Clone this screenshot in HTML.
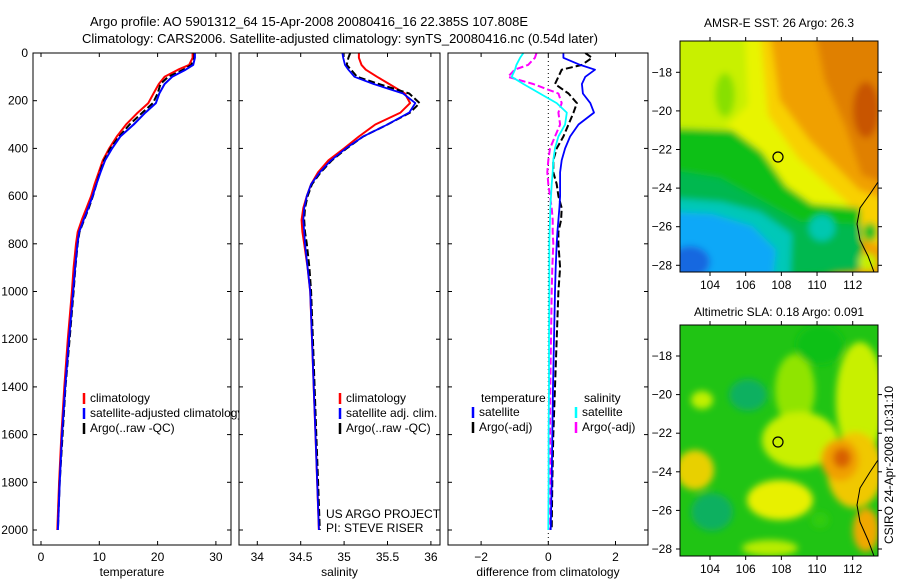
<!DOCTYPE html>
<html><head><meta charset="utf-8"><style>
html,body{margin:0;padding:0;background:#fff;}
svg{display:block;font-family:"Liberation Sans",sans-serif;}
</style></head><body>
<svg id="chart" width="900" height="580" viewBox="0 0 900 580" xmlns="http://www.w3.org/2000/svg">
<defs>
  <clipPath id="clipM1"><rect x="680" y="41" width="198" height="231"/></clipPath>
  <clipPath id="clipM2"><rect x="680" y="325" width="198" height="231"/></clipPath>
  <filter id="blur" x="-20%" y="-20%" width="140%" height="140%"><feGaussianBlur stdDeviation="3.5"/></filter>
  <clipPath id="clipP1"><rect x="33" y="53" width="198" height="492"/></clipPath>
  <clipPath id="clipP2"><rect x="239" y="53" width="201" height="492"/></clipPath>
  <clipPath id="clipP3"><rect x="448" y="53" width="200" height="492"/></clipPath>
</defs>
<text x="309" y="26" font-size="13" text-anchor="middle">Argo profile: AO 5901312_64 15-Apr-2008 20080416_16 22.385S 107.808E</text>
<text x="340" y="43" font-size="13" text-anchor="middle">Climatology: CARS2006. Satellite-adjusted climatology: synTS_20080416.nc (0.54d later)</text>

<g id="p1"></g>
<g id="p2"></g>
<g id="p3"></g>

<!-- Map 1: SST -->
<g>
  <text x="779" y="27" font-size="12" text-anchor="middle">AMSR-E SST: 26 Argo: 26.3</text>
  <g clip-path="url(#clipM1)">
    <rect x="680" y="41" width="198" height="231" fill="#f0a000"/>
    <g filter="url(#blur)">
      <polygon fill="#e08000" points="815,30 890,30 890,185 862,175 845,125 825,80"/>
      <ellipse fill="#c85400" cx="866" cy="110" rx="13" ry="28"/>
      <polygon fill="#f8d000" points="670,30 770,30 780,100 810,140 860,190 890,200 890,250 850,235 800,215 760,175 730,140 670,130"/>
      <polygon fill="#e8f400" points="670,30 760,30 768,115 798,158 850,205 820,212 770,188 740,150 670,140"/>
      <polygon fill="#c8f000" points="670,35 745,35 748,105 725,128 670,128"/>
      <ellipse fill="#88e000" cx="725" cy="95" rx="10" ry="22"/>
      <polygon fill="#08c018" points="670,128 732,130 762,152 786,186 812,204 860,208 862,262 800,285 670,285"/>
      <polygon fill="#00b850" points="670,170 720,178 760,200 800,222 860,225 860,270 670,285"/>
      <polygon fill="#00c8b8" points="670,198 722,202 760,212 792,234 790,285 670,285"/>
      <ellipse fill="#00c8b0" cx="822" cy="228" rx="13" ry="13"/>
      <polygon fill="#10a8f8" points="670,212 712,214 752,226 776,250 772,285 670,285"/>
      <ellipse fill="#1468e0" cx="690" cy="262" rx="20" ry="16"/>
      <ellipse fill="#10c020" cx="870" cy="232" rx="7" ry="9"/>
      <ellipse fill="#c8f000" cx="868" cy="262" rx="9" ry="9"/>
    </g>
    <polyline fill="none" stroke="#000" stroke-width="1" points="878,182 870,194 860,208 857,224 860,240 868,256 874,272"/>
    <circle cx="778" cy="157" r="5" fill="none" stroke="#000" stroke-width="1.2"/>
  </g>
  <rect x="680" y="41" width="198" height="231" fill="none" stroke="#000" stroke-width="1"/>
  <g id="m1axes"></g>
</g>

<!-- Map 2: SLA -->
<g>
  <text x="779" y="316" font-size="12" text-anchor="middle">Altimetric SLA: 0.18 Argo: 0.091</text>
  <g clip-path="url(#clipM2)">
    <rect x="680" y="325" width="198" height="231" fill="#20c414"/>
    <g filter="url(#blur)">
      <ellipse fill="#90e400" cx="795" cy="390" rx="20" ry="36"/>
      <ellipse fill="#c8f000" cx="800" cy="440" rx="38" ry="28"/>
      <ellipse fill="#e8f000" cx="780" cy="500" rx="33" ry="20"/>
      <ellipse fill="#c8f000" cx="860" cy="400" rx="24" ry="58"/>
      <ellipse fill="#f0c800" cx="855" cy="470" rx="28" ry="38"/>
      <ellipse fill="#f0a000" cx="840" cy="460" rx="19" ry="21"/>
      <ellipse fill="#d86000" cx="842" cy="458" rx="9" ry="10"/>
      <ellipse fill="#f0a800" cx="866" cy="530" rx="13" ry="22"/>
      <ellipse fill="#e8d000" cx="695" cy="470" rx="19" ry="20"/>
      <ellipse fill="#c0f000" cx="702" cy="400" rx="11" ry="9"/>
      <ellipse fill="#10b060" cx="748" cy="395" rx="19" ry="16"/>
      <ellipse fill="#10b060" cx="712" cy="512" rx="21" ry="19"/>
      <ellipse fill="#30cc10" cx="820" cy="520" rx="9" ry="8"/>
      <ellipse fill="#b8ec00" cx="770" cy="548" rx="28" ry="8"/>
      <ellipse fill="#10c018" cx="820" cy="345" rx="24" ry="20"/>
    </g>
    <polyline fill="none" stroke="#000" stroke-width="1" points="878,460 870,472 860,488 857,505 860,522 868,540 874,556"/>
    <circle cx="778" cy="442" r="5" fill="none" stroke="#000" stroke-width="1.2"/>
  </g>
  <rect x="680" y="325" width="198" height="231" fill="none" stroke="#000" stroke-width="1"/>
  <g id="m2axes"></g>
</g>

<text transform="translate(893,465) rotate(-90)" font-size="12" text-anchor="middle">CSIRO 24-Apr-2008 10:31:10</text>

<script>
// shared depth levels (dbar)
const depths = [0,20,50,70,100,130,170,210,250,300,350,400,450,500,550,600,650,700,750,800,900,1000,1200,1400,1600,1800,2000];
// temperature
const climT = [26.0,26.0,25.4,23.5,21.2,20.2,19.3,18.4,16.6,14.6,13.0,11.7,10.6,9.9,9.2,8.6,7.8,7.0,6.3,6.0,5.6,5.3,4.6,4.0,3.5,3.1,2.8];
const satT  = [26.4,26.4,26.1,24.8,22.5,21.2,20.3,19.7,17.9,15.9,13.6,12.2,11.0,10.2,9.5,8.85,8.1,7.3,6.55,6.25,5.85,5.5,4.8,4.15,3.6,3.2,2.9];
const argoT = [26.3,26.3,25.8,24.4,21.8,20.5,20.0,19.2,17.4,15.2,13.4,11.9,10.8,10.1,9.5,8.9,8.2,7.4,6.6,6.3,5.9,5.6,4.9,4.2,3.7,3.2,2.9];
// salinity
const climS = [35.17,35.17,35.20,35.25,35.38,35.52,35.70,35.76,35.65,35.36,35.17,35.0,34.82,34.70,34.62,34.57,34.53,34.51,34.52,34.54,34.58,34.61,34.63,34.65,34.67,34.69,34.71];
const satS  = [34.98,34.99,35.01,35.05,35.12,35.34,35.68,35.82,35.75,35.50,35.22,35.02,34.85,34.72,34.62,34.57,34.54,34.53,34.54,34.55,34.58,34.61,34.63,34.65,34.67,34.69,34.71];
const argoS = [35.07,35.05,35.03,35.08,35.15,35.40,35.75,35.87,35.76,35.50,35.22,35.03,34.86,34.73,34.63,34.58,34.55,34.54,34.55,34.57,34.60,34.62,34.64,34.66,34.68,34.70,34.72];
// differences from climatology
const satDT  = [0.45,0.45,0.95,1.39,1.1,1.0,1.03,1.25,1.36,0.9,0.65,0.5,0.4,0.35,0.35,0.35,0.33,0.3,0.27,0.25,0.22,0.2,0.17,0.14,0.12,0.1,0.07];
const argoDT = [1.1,1.3,1.0,0.4,0.3,0.2,0.6,0.85,0.75,0.6,0.45,0.25,0.15,0.15,0.25,0.3,0.4,0.38,0.3,0.3,0.35,0.3,0.25,0.2,0.15,0.12,0.1];
const satDS  = [-0.74,-0.84,-0.95,-0.99,-1.09,-0.74,-0.25,0.25,0.55,0.5,0.3,0.2,0.15,0.13,0.1,0.08,0.06,0.05,0.04,0.03,0.03,0.03,0.02,0.02,0.01,0.01,0.0];
const argoDS = [-0.35,-0.4,-0.6,-1.0,-1.2,-0.45,0.3,0.4,0.3,0.35,0.2,0.05,0.0,-0.03,0.0,0.05,0.1,0.13,0.13,0.15,0.12,0.1,0.08,0.06,0.05,0.05,0.05];
// tick labels
const depthTicks = [0,200,400,600,800,1000,1200,1400,1600,1800,2000];
const tempTicks = [0,10,20,30];
const salTicks = ["34","34.5","35","35.5","36"];
const diffTicks = [-2,0,2];
const lonTicks = [104,106,108,110,112];
const latTicks = [-18,-20,-22,-24,-26,-28];

const NS = "http://www.w3.org/2000/svg";
function mk(tag, attrs, parent, txt){
  const e = document.createElementNS(NS, tag);
  for (const k in attrs) e.setAttribute(k, attrs[k]);
  if (txt !== undefined) e.textContent = txt;
  parent.appendChild(e);
  return e;
}
const yDepth = d => 53 + d * 0.2385;
const FT = 53, FB = 545;

function panel(g, x0, x1, xs, ticks, tickLabels, title, clip){
  const bg = mk('rect', {x:x0, y:FT, width:x1-x0, height:FB-FT, fill:'#fff'}, g);
  
  
  ticks.forEach((v,i)=>{
    const x = xs(v);
    mk('line',{x1:x,y1:FT,x2:x,y2:FT+4,stroke:'#000'},g);
    mk('line',{x1:x,y1:FB,x2:x,y2:FB-4,stroke:'#000'},g);
    const t = mk('text',{x:x,y:561,'font-size':12,'text-anchor':'middle'},g,tickLabels[i]);
    
    
  });
  depthTicks.forEach(d=>{
    const y = yDepth(d);
    mk('line',{x1:x0,y1:y,x2:x0+4,y2:y,stroke:'#000'},g);
    mk('line',{x1:x1,y1:y,x2:x1-4,y2:y,stroke:'#000'},g);
  });
  const tt = mk('text',{x:(x0+x1)/2,y:576,'font-size':12,'text-anchor':'middle'},g,title);
  
  
  const inner = mk('g',{'clip-path':'url(#'+clip+')'},g);
  return inner;
}
function frame(g,x0,x1){
  const f = mk('rect',{x:x0,y:FT,width:x1-x0,height:FB-FT,fill:'none',stroke:'#000','stroke-width':1},g);
  
  
}
function line(g, vals, xs, color, w, dash, name){
  const pts = vals.map((v,i)=> xs(v).toFixed(1)+','+yDepth(depths[i]).toFixed(1)).join(' ');
  const p = mk('polyline',{points:pts,fill:'none',stroke:color,'stroke-width':w,'stroke-linejoin':'round'},g);
  if (dash) p.setAttribute('stroke-dasharray', dash);
  
  
}
function legend(g, x, y, color, label, name){
  mk('line',{x1:x,y1:y-9,x2:x,y2:y+2,stroke:color,'stroke-width':2.5},g);
  const t = mk('text',{x:x+6,y:y,'font-size':12},g,label);
  
  
}

// Panel 1 temperature
const g1 = document.getElementById('p1');
const xT = v => 41 + v * 5.83;
const c1 = panel(g1, 33, 231, xT, tempTicks, tempTicks.map(String), 'temperature', 'clipP1');
depthTicks.forEach(d=>{
  const t = mk('text',{x:28,y:yDepth(d)+4,'font-size':12,'text-anchor':'end'},g1,String(d));
  
  
});
line(c1, climT, xT, '#f00', 2, null, 'temp-climatology-line');
line(c1, argoT, xT, '#000', 2, '7,3', 'temp-argo-line');
line(c1, satT, xT, '#00f', 2, null, 'temp-satellite-line');
frame(g1,33,231);
legend(g1, 84, 402, '#f00', 'climatology', 'legend-climatology');
legend(g1, 84, 417, '#00f', 'satellite-adjusted climatology', 'legend-satellite-adjusted');
legend(g1, 84, 432, '#000', 'Argo(..raw -QC)', 'legend-argo');

// Panel 2 salinity
const g2 = document.getElementById('p2');
const xS = v => 257.3 + (v - 34) * 86.8;
const c2 = panel(g2, 239, 440, xS, salTicks.map(Number), salTicks, 'salinity', 'clipP2');
line(c2, climS, xS, '#f00', 2, null, 'sal-climatology-line');
line(c2, argoS, xS, '#000', 2, '7,3', 'sal-argo-line');
line(c2, satS, xS, '#00f', 1.8, null, 'sal-satellite-line');
frame(g2,239,440);
legend(g2, 340, 402, '#f00', 'climatology', 'legend-climatology-2');
legend(g2, 340, 417, '#00f', 'satellite adj. clim.', 'legend-satellite-2');
legend(g2, 340, 432, '#000', 'Argo(..raw -QC)', 'legend-argo-2');
const n1 = mk('text',{x:326,y:518,'font-size':12},g2,'US ARGO PROJECT');


const n2 = mk('text',{x:326,y:532,'font-size':12},g2,'PI: STEVE RISER');



// Panel 3 differences
const g3 = document.getElementById('p3');
const xD = v => 548.3 + v * 33.6;
const c3 = panel(g3, 448, 648, xD, diffTicks, diffTicks.map(v=>v<0?'\u2212'+Math.abs(v):String(v)), 'difference from climatology', 'clipP3');
const zl = mk('line',{x1:xD(0),y1:FT,x2:xD(0),y2:FB,stroke:'#000','stroke-width':1,'stroke-dasharray':'1,3'},c3);


line(c3, argoDT, xD, '#000', 2, '7,3', 'diff-temp-argo-line');
line(c3, argoDS, xD, '#f0f', 2, '7,3', 'diff-sal-argo-line');
line(c3, satDT, xD, '#00f', 1.8, null, 'diff-temp-satellite-line');
line(c3, satDS, xD, '#0ff', 1.8, null, 'diff-sal-satellite-line');
frame(g3,448,648);
const h1 = mk('text',{x:481,y:402,'font-size':12},g3,'temperature');


const h2 = mk('text',{x:584,y:402,'font-size':12},g3,'salinity');


legend(g3, 473, 416, '#00f', 'satellite', 'legend-temp-satellite');
legend(g3, 473, 431, '#000', 'Argo(-adj)', 'legend-temp-argo');
legend(g3, 576, 416, '#0ff', 'satellite', 'legend-sal-satellite');
legend(g3, 576, 431, '#f0f', 'Argo(-adj)', 'legend-sal-argo');

// Map axes
function mapAxes(id, top, bottom, lat0y){
  const g = document.getElementById(id);
  const xl = lon => 710 + (lon - 104) * 17.84;
  const yl = lat => lat0y + (-18 - lat) * 19.3;
  lonTicks.forEach(l=>{
    const x = xl(l);
    mk('line',{x1:x,y1:top,x2:x,y2:top-4,stroke:'#000'},g);
    mk('line',{x1:x,y1:bottom,x2:x,y2:bottom+4,stroke:'#000'},g);
    const t = mk('text',{x:x,y:bottom+17,'font-size':12,'text-anchor':'middle'},g,String(l));
    
    
  });
  latTicks.forEach(l=>{
    const y = yl(l);
    mk('line',{x1:680,y1:y,x2:676,y2:y,stroke:'#000'},g);
    mk('line',{x1:878,y1:y,x2:882,y2:y,stroke:'#000'},g);
    const t = mk('text',{x:672,y:y+4,'font-size':12,'text-anchor':'end'},g,'\u2212'+Math.abs(l));
    
    
  });
}
mapAxes('m1axes', 41, 272, 72.3);
mapAxes('m2axes', 325, 556, 356);
</script>
</svg>
</body></html>
